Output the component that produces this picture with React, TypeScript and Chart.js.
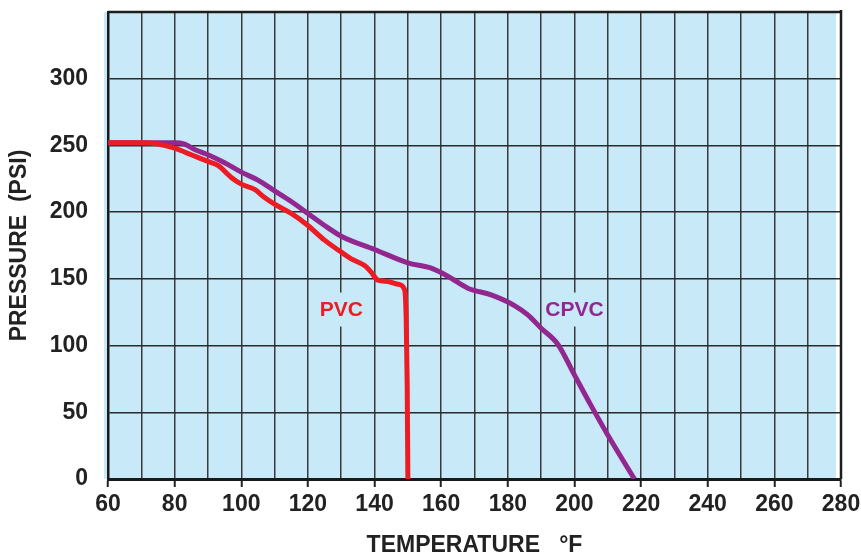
import { useEffect, useRef } from "react";
import { Chart, registerables } from "chart.js";

Chart.register(...registerables);

const FONT = "'Liberation Sans', Arial, Helvetica, sans-serif";

// PVC curve (temperature °F, pressure psi)
const pvcTemperature = [60, 70, 75, 80, 85, 90, 93, 97, 100, 104, 107, 110, 115, 120, 125, 130, 133, 137, 139, 141, 144, 147, 149, 149.5, 149.8, 150];
const pvcPressure = [252, 252, 251, 248, 243, 238, 235, 226, 221, 217, 211, 206, 199, 190, 179, 170, 165, 160, 155, 149, 148, 146, 142, 120, 70, 0];

// CPVC curve
const cpvcTemperature = [60, 70, 80, 83, 86, 90, 95, 100, 105, 110, 115, 120, 125, 130, 140, 150, 157, 162, 168, 175, 182, 186, 190, 195, 200, 205, 210, 218];
const cpvcPressure = [252, 252, 252, 251, 247, 243, 237, 230, 224, 216, 208, 199, 190, 182, 172, 162, 158, 152, 143, 138, 130, 123, 113, 101, 78, 55, 33, 0];

// In-plot curve labels
const labelNames = ["PVC", "CPVC"];
const labelTemps = [130, 200];
const labelPressures = [127, 127];
const labelColors = ["#ed1c24", "#92278f"];

const xTitle = "TEMPERATURE   °F";
const yTitle = "PRESSURE  (PSI)";

const FILL = "#c7e9f8";

const framePlugin = {
  id: "frameAndLabels",
  beforeDraw(chart: any) {
    const { ctx, chartArea: a } = chart;
    ctx.save();
    ctx.fillStyle = FILL;
    ctx.fillRect(a.left - 4, a.top, a.right - a.left - 1, a.bottom - a.top);
    ctx.restore();
  },
  beforeDatasetsDraw(chart: any) {
    const { ctx, chartArea: a, scales } = chart;
    ctx.save();
    ctx.strokeStyle = "#1e1e1e";
    ctx.lineWidth = 2.5;
    ctx.beginPath();
    ctx.moveTo(a.left, a.top);
    ctx.lineTo(a.right + 1, a.top);
    ctx.moveTo(a.right, a.top - 2);
    ctx.lineTo(a.right, a.bottom);
    ctx.stroke();
    // labels
    ctx.font = `bold 21px ${FONT}`;
    ctx.textAlign = "center";
    ctx.textBaseline = "middle";
    labelNames.forEach((name, i) => {
      const x = scales.x.getPixelForValue(labelTemps[i]);
      const y = scales.y.getPixelForValue(labelPressures[i]);
      const w = ctx.measureText(name).width + 6;
      ctx.fillStyle = FILL;
      ctx.fillRect(x - w / 2, y - 17, w, 34);
      ctx.fillStyle = labelColors[i];
      ctx.fillText(name, x, y + 1);
    });
    ctx.restore();
  },
};

export default function App() {
  const ref = useRef<HTMLCanvasElement | null>(null);

  useEffect(() => {
    document.body.style.margin = "0";
    if (!ref.current) return;
    Chart.defaults.font.family = FONT;
    const chart = new Chart(ref.current, {
      type: "line",
      data: {
        datasets: [
          {
            label: "PVC",
            data: pvcTemperature.map((t, i) => ({ x: t, y: pvcPressure[i] })),
            borderColor: "#ed1c24",
            borderWidth: 5,
            pointRadius: 0,
            cubicInterpolationMode: "monotone",
            borderJoinStyle: "round",
          },
          {
            label: "CPVC",
            data: cpvcTemperature.map((t, i) => ({ x: t, y: cpvcPressure[i] })),
            borderColor: "#92278f",
            borderWidth: 5,
            pointRadius: 0,
            cubicInterpolationMode: "monotone",
            borderJoinStyle: "round",
          },
        ],
      },
      options: {
        animation: false,
        responsive: false,
        devicePixelRatio: 1,
        layout: { padding: { top: 12, right: 20, left: 0, bottom: 0 } },
        plugins: {
          legend: { display: false },
          tooltip: { enabled: false },
        },
        scales: {
          x: {
            type: "linear",
            min: 60,
            max: 280,
            afterFit: (s: any) => {
              s.height = 75;
            },
            ticks: {
              stepSize: 10,
              autoSkip: false,
              maxRotation: 0,
              padding: 0,
              color: "#222",
              font: { size: 23, weight: "bold", lineHeight: 1.55 },
              callback: (v: any) => (Number(v) % 20 === 0 ? String(v) : ""),
            },
            grid: {
              color: "#3a3a3a",
              lineWidth: 1.5,
              tickLength: 8,
              tickWidth: 2,
              tickColor: (c: any) =>
                c.tick && c.tick.value % 20 === 0 ? "#222" : "rgba(0,0,0,0)",
            },
            border: { display: true, color: "#1a1a1a", width: 3 },
            title: {
              display: true,
              text: xTitle,
              color: "#222",
              font: { size: 23, weight: "bold", lineHeight: 1 },
              padding: { top: 0, bottom: -3 },
            },
          },
          y: {
            min: 0,
            max: 350,
            afterFit: (s: any) => {
              s.width = 108;
            },
            ticks: {
              stepSize: 50,
              padding: 0,
              color: "#222",
              font: { size: 23, weight: "bold", lineHeight: 1 },
              callback: (v: any) => (Number(v) <= 300 ? String(v) : ""),
            },
            grid: {
              color: "#2a2a2a",
              lineWidth: 1.5,
              drawTicks: true,
              tickLength: 20,
              tickColor: "rgba(0,0,0,0)",
            },
            border: { display: true, color: "#1a1a1a", width: 2.5 },
            title: {
              display: true,
              text: yTitle,
              color: "#222",
              font: { size: 23, weight: "bold", lineHeight: 1 },
              padding: { top: 8.5, bottom: 0 },
            },
          },
        },
      },
      plugins: [framePlugin],
    } as any);
    return () => chart.destroy();
  }, []);

  return (
    <div style={{ width: 861, height: 554 }}>
      <canvas ref={ref} width={861} height={554} style={{ display: "block" }} />
    </div>
  );
}
